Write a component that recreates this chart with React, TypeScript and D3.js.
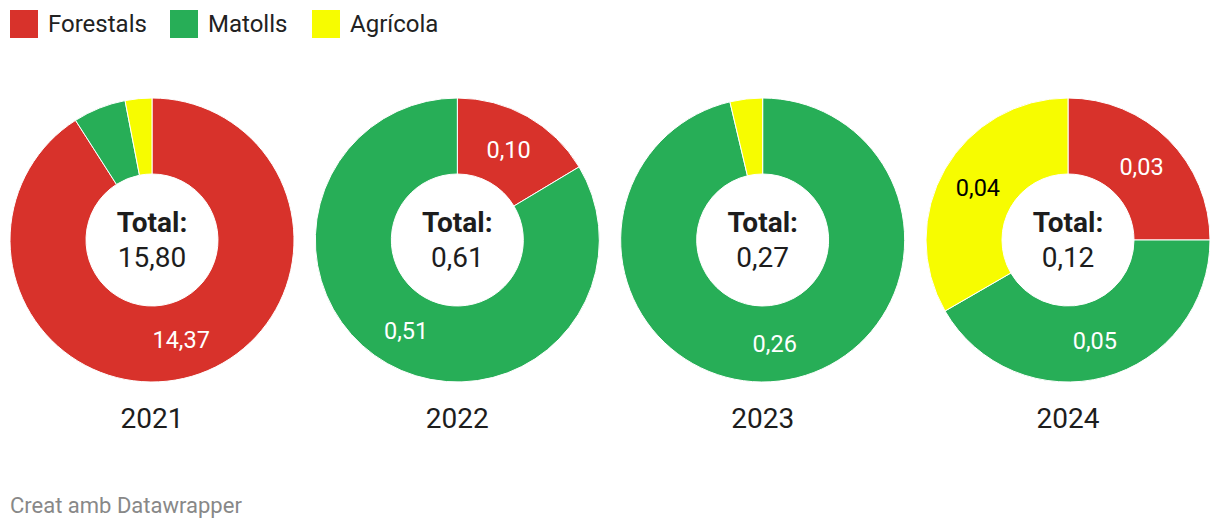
import * as d3 from "d3";
import React from "react";

// data
const categories = ["Forestals", "Matolls", "Agrícola"];
const colors = ["#d8322b", "#27ae57", "#f7fc00"];
const years = ["2021", "2022", "2023", "2024"];
const forestals = [14.37, 0.10, 0, 0.03];
const matolls = [0.95, 0.51, 0.26, 0.05];
const agricola = [0.48, 0, 0.01, 0.04];
const totals = [15.80, 0.61, 0.27, 0.12];

const width = 1220;
const height = 530;
const outerR = 142;
const innerR = 66;
const cy = 240;
const font = "Roboto, sans-serif";

const locale = d3.formatLocale({ decimal: ",", thousands: ".", grouping: [3], currency: ["", "€"] });
const fmt = locale.format(".2f");

const App = () => {
  const x = d3.scalePoint().domain(years).range([152, 1068]);
  const pie = d3.pie<number>().sort(null).value((d) => d);
  const arc = d3.arc<d3.PieArcDatum<number>>().innerRadius(innerR).outerRadius(outerR);

  // legend x positions
  const legendX = [10, 170, 312];

  return (
    <div style={{ position: "absolute", left: 0, top: 0 }}>
      <svg width={width} height={height} style={{ display: "block", fontFamily: font }}>
        <rect width={width} height={height} fill="#fff" />
        {categories.map((c, i) => (
          <g key={c} transform={`translate(${legendX[i]},10)`}>
            <rect width={28} height={28} fill={colors[i]} />
            <text x={38} y={22} fontSize={24} fill="#222">{c}</text>
          </g>
        ))}
        {years.map((y, yi) => {
          const vals = [forestals[yi], matolls[yi], agricola[yi]];
          const arcs = pie(vals);
          return (
            <g key={y} transform={`translate(${x(y)},${cy})`}>
              {arcs.map((a, i) =>
                a.value > 0 ? (
                  <path key={i} d={arc(a) || ""} fill={colors[i]} stroke="#fff" strokeWidth={1} />
                ) : null
              )}
              {arcs.map((a, i) => {
                if (a.endAngle - a.startAngle < 0.5) return null;
                const [lx, ly] = arc.centroid(a);
                return (
                  <text key={"l" + i} x={lx} y={ly} dy="0.35em" textAnchor="middle" fontSize={23.5}
                    fill={i === 2 ? "#000" : "#fff"}>
                    {fmt(a.value)}
                  </text>
                );
              })}
              <text y={-8} textAnchor="middle" fontSize={28} fontWeight="bold" fill="#1d1d1d">Total:</text>
              <text y={27} textAnchor="middle" fontSize={28} fill="#1d1d1d">{fmt(totals[yi])}</text>
              <text y={188} textAnchor="middle" fontSize={28} fill="#1d1d1d">{y}</text>
            </g>
          );
        })}
        <text x={10} y={513} fontSize={22} fill="#888">Creat amb Datawrapper</text>
      </svg>
    </div>
  );
};

export default App;
